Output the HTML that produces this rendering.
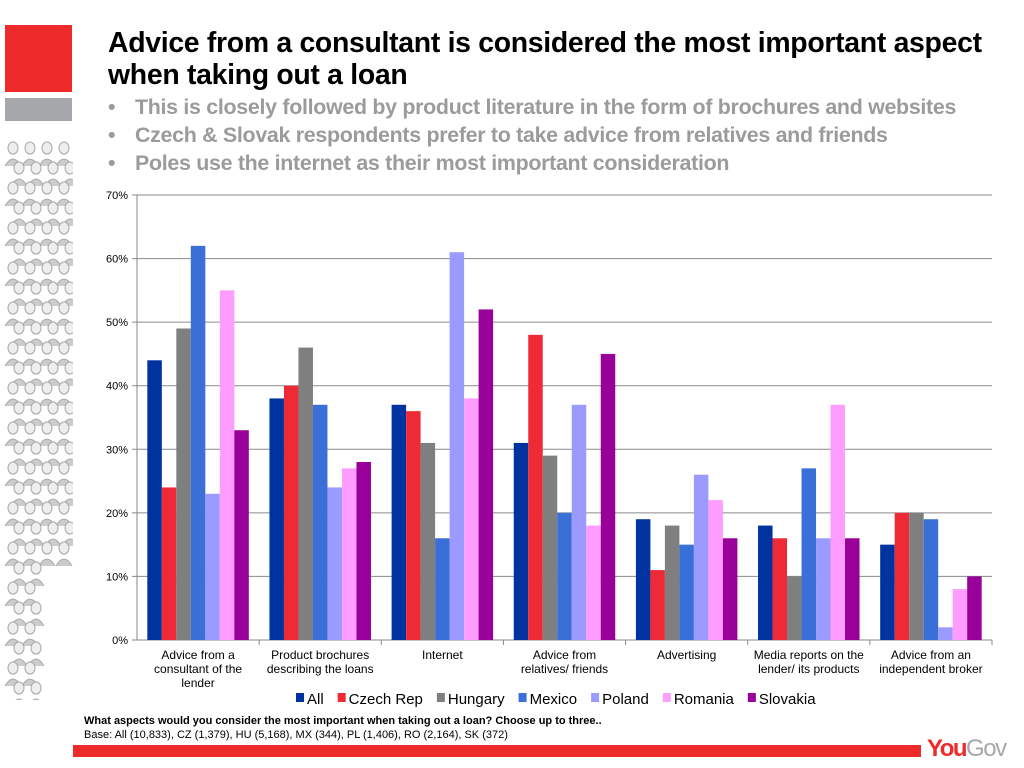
<!DOCTYPE html>
<html><head><meta charset="utf-8"><style>
body{margin:0;width:1024px;height:768px;background:#fff;font-family:"Liberation Sans",Arial,sans-serif;position:relative;overflow:hidden}
.abs{position:absolute;white-space:nowrap}
.t{left:108px;font-weight:bold;font-size:28.4px;color:#000;letter-spacing:-0.3px}
.b{left:108px;font-size:21.4px;font-weight:bold;color:#9b9b9b;letter-spacing:-0.3px}
.b span{display:inline-block;width:27px}
</style></head><body>
<div class="abs" style="left:5px;top:25px;width:67px;height:67px;background:#ee2a2a"></div>
<div class="abs" style="left:5px;top:98px;width:67px;height:23px;background:#a6a7aa"></div>
<svg class="abs" style="left:5px;top:140px" width="68" height="560" id="ppl"></svg>
<div class="abs t" style="top:27px">Advice from a consultant is considered the most important aspect</div>
<div class="abs t" style="top:59px">when taking out a loan</div>
<div class="abs b" style="top:95px"><span>•</span>This is closely followed by product literature in the form of brochures and websites</div>
<div class="abs b" style="top:123px"><span>•</span>Czech &amp; Slovak respondents prefer to take advice from relatives and friends</div>
<div class="abs b" style="top:151px"><span>•</span>Poles use the internet as their most important consideration</div>
<svg class="abs" style="left:0;top:0" width="1024" height="768" id="chart"></svg>
<div class="abs" style="left:84px;top:715px;font-size:11px;font-weight:bold">What aspects would you consider the most important when taking out a loan? Choose up to three..</div>
<div class="abs" style="left:84px;top:729px;font-size:11px">Base: All (10,833), CZ (1,379), HU (5,168), MX (344), PL (1,406), RO (2,164), SK (372)</div>
<div class="abs" style="left:73px;top:745px;width:848px;height:12px;background:#ee2a2a"></div>
<div class="abs" style="left:927px;top:735px;font-size:24px;font-weight:bold;letter-spacing:-1.5px;color:#ee2a2a">You<span style="color:#a6a7aa;font-weight:normal">Gov</span></div>
<script>
const categories=[["Advice from a","consultant of the","lender"],["Product brochures","describing the loans"],["Internet"],["Advice from","relatives/ friends"],["Advertising"],["Media reports on the","lender/ its products"],["Advice from an","independent broker"]];
const seriesNames=["All","Czech Rep","Hungary","Mexico","Poland","Romania","Slovakia"];
const all=[44,38,37,31,19,18,15];
const czech=[24,40,36,48,11,16,20];
const hungary=[49,46,31,29,18,10,20];
const mexico=[62,37,16,20,15,27,19];
const poland=[23,24,61,37,26,16,2];
const romania=[55,27,38,18,22,37,8];
const slovakia=[33,28,52,45,16,16,10];
const series=[all,czech,hungary,mexico,poland,romania,slovakia];
const colors=["#0033a0","#ee2a36","#7f7f7f","#3a6fd8","#9b9bff","#ff9cff","#990099"];
const yTicks=[0,10,20,30,40,50,60,70];
const NS="http://www.w3.org/2000/svg";
const svg=document.getElementById('chart');
const X0=137,X1=992,Y0=640,Y1=195,YMAX=70;
const y=v=>Y0-(v/YMAX)*(Y0-Y1);
const gw=(X1-X0)/categories.length, bw=14.5;
const x=(g,s)=>X0+g*gw+(gw-bw*series.length)/2+s*bw;
function mk(tag,a){const e=document.createElementNS(NS,tag);for(const k in a)e.setAttribute(k,a[k]);svg.appendChild(e);return e;}
yTicks.forEach(t=>{
 const l=mk('line',{x1:X0-5,x2:X1,y1:y(t),y2:y(t),stroke:'#8a8a8a','stroke-width':1});
 
 
 const tx=mk('text',{x:X0-9,y:y(t)+4,'text-anchor':'end','font-size':11,'font-family':'Liberation Sans, sans-serif'});
 tx.textContent=t+'%';
 
 
});
const ax=mk('line',{x1:X0,x2:X0,y1:Y1,y2:Y0,stroke:'#8a8a8a'});


categories.forEach((c,g)=>{
 const tk=mk('line',{x1:X0+(g+1)*gw,x2:X0+(g+1)*gw,y1:Y0,y2:Y0+5,stroke:'#8a8a8a'});
 
 
 c.forEach((ln,i)=>{
  const tx=mk('text',{x:X0+g*gw+gw/2,y:Y0+19+i*14,'text-anchor':'middle','font-size':12,'font-family':'Liberation Sans, sans-serif'});
  tx.textContent=ln;
  
  
 });
 series.forEach((s,si)=>{
  const r=mk('rect',{x:x(g,si),y:y(s[g]),width:bw,height:Y0-y(s[g]),fill:colors[si]});
  
  
 });
});
let lx=296;
seriesNames.forEach((n,i)=>{
 const r=mk('rect',{x:lx,y:693,width:8,height:9,fill:colors[i]});
 
 
 const t=mk('text',{x:lx+11,y:704,'font-size':15,'font-family':'Liberation Sans, sans-serif'});
 t.textContent=n;
 
 
 lx+=11+t.getComputedTextLength()+14;
});
const p=document.getElementById('ppl');
for(let r=0;r<28;r++)for(let c=0;c<4;c++){
 const cx=8+c*17+(r%2)*6, cy=8+r*20;
 if(r>20&&c>1)continue;
 const e=document.createElementNS(NS,'ellipse');
 e.setAttribute('cx',cx);e.setAttribute('cy',cy);e.setAttribute('rx',5);e.setAttribute('ry',6);
 e.setAttribute('fill','#eee');e.setAttribute('stroke','#a8a8a8');e.setAttribute('stroke-width','1');
 p.appendChild(e);
 const b=document.createElementNS(NS,'path');
 b.setAttribute('d',`M${cx-8} ${cy+18} Q${cx} ${cy+4} ${cx+8} ${cy+18}`);
 b.setAttribute('fill','#ccc');b.setAttribute('stroke','#aaa');
 p.appendChild(b);
}
</script>
</body></html>
